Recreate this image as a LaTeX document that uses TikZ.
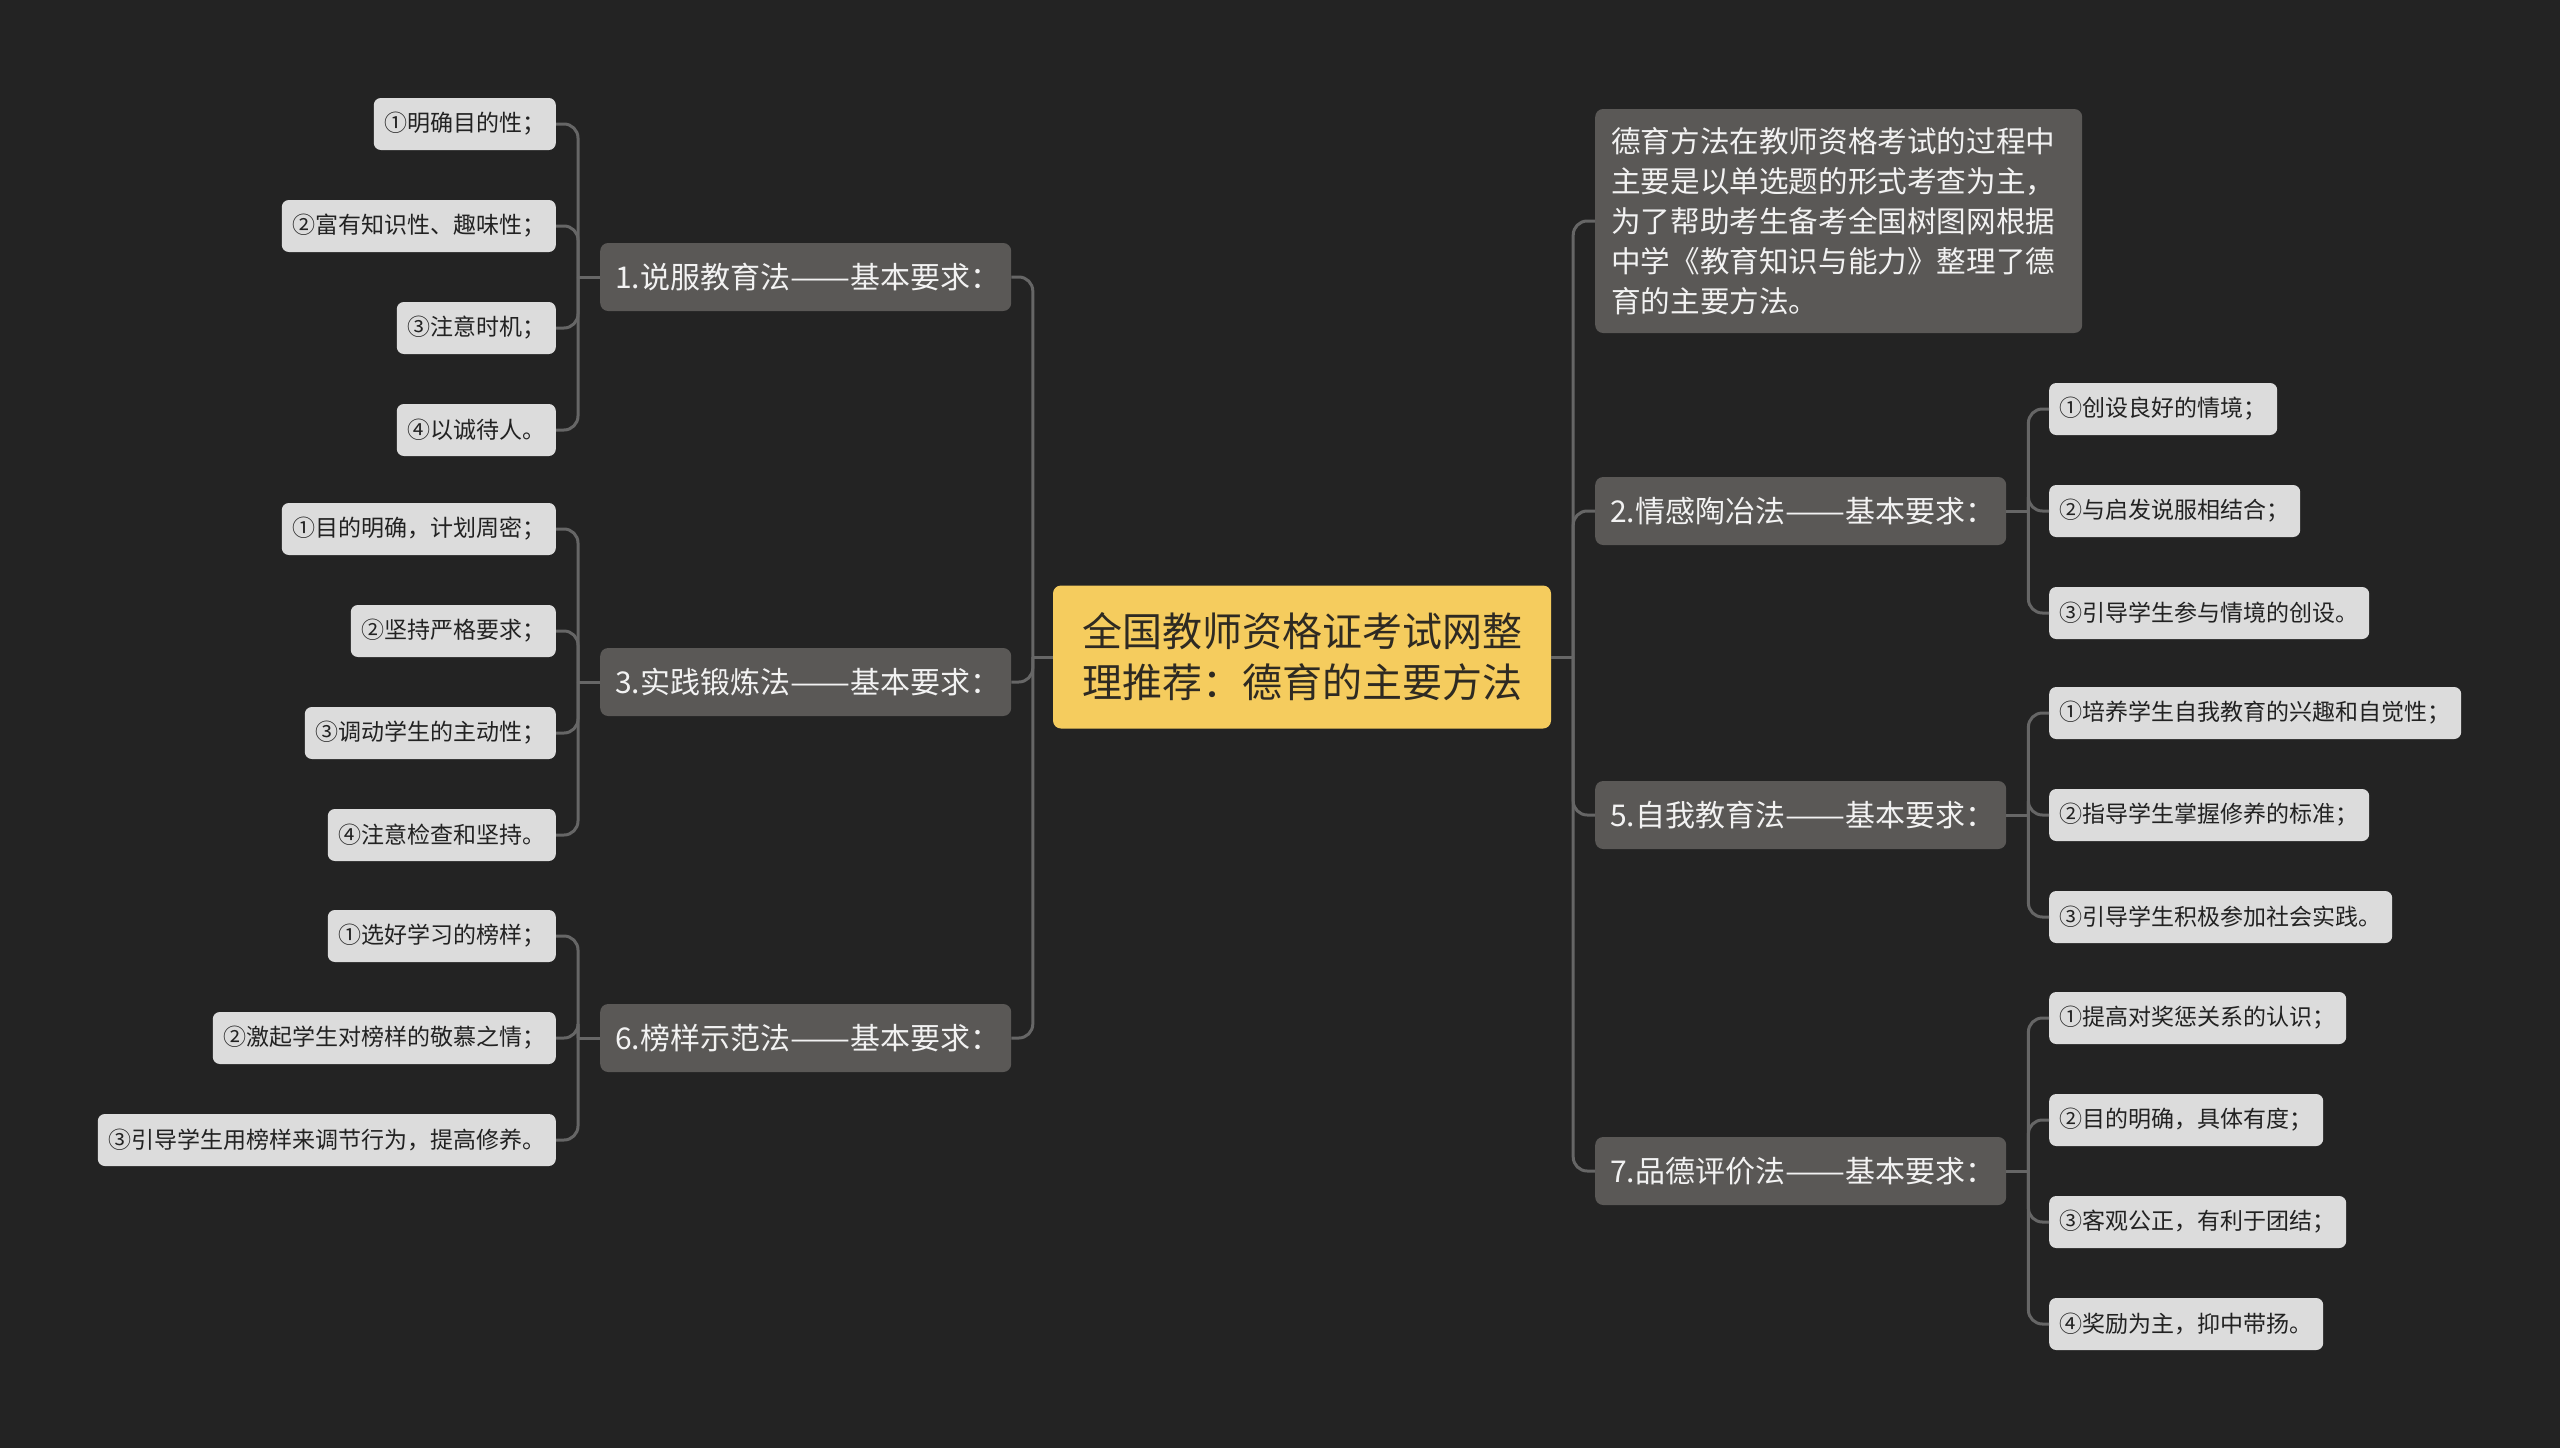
\documentclass[tikz,border=0pt]{standalone}
\usepackage{fontspec}
\setmainfont{Noto Sans CJK SC}
\definecolor{bgc}{HTML}{232323}
\definecolor{rootc}{HTML}{F5CC5E}
\definecolor{roottext}{HTML}{2E2A22}
\definecolor{branchc}{HTML}{5A5856}
\definecolor{branchtext}{HTML}{F2F2F2}
\definecolor{leafc}{HTML}{DCDCDC}
\definecolor{leaftext}{HTML}{222222}
\definecolor{linec}{HTML}{666666}
\newcommand\cjkdash{\resizebox{2em}{\height}{——}}
\tikzset{
  rootbox/.style={fill=rootc, rounded corners=8pt, text=roottext, font=\fontsize{40}{51}\selectfont, align=center, minimum width=498pt, minimum height=143pt, inner sep=0pt},
  branchbox/.style={fill=branchc, rounded corners=8pt, text=branchtext, font=\fontsize{30}{40}\selectfont, minimum height=68pt, text width=381pt, align=left, inner xsep=15pt, inner ysep=0pt},
  introbox/.style={fill=branchc, rounded corners=8pt, text=branchtext, font=\fontsize{29.6}{40}\selectfont, minimum height=224pt, text width=455pt, align=left, inner xsep=16pt, inner ysep=0pt},
  leafbox/.style={fill=leafc, rounded corners=7pt, text=leaftext, font=\fontsize{23}{28}\selectfont, minimum height=52pt, inner xsep=10.5pt, inner ysep=0pt},
  conn/.style={draw=linec, line width=3pt, rounded corners=14pt}
}
\begin{document}
\begin{tikzpicture}[x=1pt,y=-1pt]
\fill[bgc] (0,0) rectangle (2560,1448);
\useasboundingbox (0,0) rectangle (2560,1448);

% root
\node[rootbox] (root) at (1302,657) {全国教师资格证考试网整\\理推荐：德育的主要方法};

% left branches
\node[branchbox, anchor=west] (b1) at (600,277) {1.说服教育法\cjkdash 基本要求：};
\node[branchbox, anchor=west] (b3) at (600,682) {3.实践锻炼法\cjkdash 基本要求：};
\node[branchbox, anchor=west] (b6) at (600,1038) {6.榜样示范法\cjkdash 基本要求：};

% right branches
\node[introbox, anchor=west] (intro) at (1595,221) {德育方法在教师资格考试的过程中\\主要是以单选题的形式考查为主，\\为了帮助考生备考全国树图网根据\\中学《教育知识与能力》整理了德\\育的主要方法。};
\node[branchbox, anchor=west] (b2) at (1595,511) {2.情感陶冶法\cjkdash 基本要求：};
\node[branchbox, anchor=west] (b5) at (1595,815) {5.自我教育法\cjkdash 基本要求：};
\node[branchbox, anchor=west] (b7) at (1595,1171) {7.品德评价法\cjkdash 基本要求：};

% left leaves
\node[leafbox, anchor=east] (l11) at (556,124) {①明确目的性；};
\node[leafbox, anchor=east] (l12) at (556,226) {②富有知识性、趣味性；};
\node[leafbox, anchor=east] (l13) at (556,328) {③注意时机；};
\node[leafbox, anchor=east] (l14) at (556,430) {④以诚待人。};
\node[leafbox, anchor=east] (l31) at (556,529) {①目的明确，计划周密；};
\node[leafbox, anchor=east] (l32) at (556,631) {②坚持严格要求；};
\node[leafbox, anchor=east] (l33) at (556,733) {③调动学生的主动性；};
\node[leafbox, anchor=east] (l34) at (556,835) {④注意检查和坚持。};
\node[leafbox, anchor=east] (l61) at (556,936) {①选好学习的榜样；};
\node[leafbox, anchor=east] (l62) at (556,1038) {②激起学生对榜样的敬慕之情；};
\node[leafbox, anchor=east] (l63) at (556,1140) {③引导学生用榜样来调节行为，提高修养。};

% right leaves
\node[leafbox, anchor=west] (r21) at (2049,409) {①创设良好的情境；};
\node[leafbox, anchor=west] (r22) at (2049,511) {②与启发说服相结合；};
\node[leafbox, anchor=west] (r23) at (2049,613) {③引导学生参与情境的创设。};
\node[leafbox, anchor=west] (r51) at (2049,713) {①培养学生自我教育的兴趣和自觉性；};
\node[leafbox, anchor=west] (r52) at (2049,815) {②指导学生掌握修养的标准；};
\node[leafbox, anchor=west] (r53) at (2049,917) {③引导学生积极参加社会实践。};
\node[leafbox, anchor=west] (r71) at (2049,1018) {①提高对奖惩关系的认识；};
\node[leafbox, anchor=west] (r72) at (2049,1120) {②目的明确，具体有度；};
\node[leafbox, anchor=west] (r73) at (2049,1222) {③客观公正，有利于团结；};
\node[leafbox, anchor=west] (r74) at (2049,1324) {④奖励为主，抑中带扬。};

% junction coordinates
\coordinate (lj) at ([xshift=-20pt]root.west);
\coordinate (rj) at ([xshift=22pt]root.east);
\coordinate (j1) at ([xshift=-22pt]b1.west);
\coordinate (j3) at ([xshift=-22pt]b3.west);
\coordinate (j6) at ([xshift=-22pt]b6.west);
\coordinate (j2) at ([xshift=22pt]b2.east);
\coordinate (j5) at ([xshift=22pt]b5.east);
\coordinate (j7) at ([xshift=22pt]b7.east);

% root connectors
\draw[conn] (root.west) -- (lj);
\draw[conn] (root.east) -- (rj);
\foreach \b in {b1,b3,b6} \draw[conn] (lj) |- (\b.east);
\foreach \b in {intro,b2,b5,b7} \draw[conn] (rj) |- (\b.west);

% branch to leaves
\draw[conn] (b1.west) -- (j1);
\draw[conn] (b3.west) -- (j3);
\draw[conn] (b6.west) -- (j6);
\draw[conn] (b2.east) -- (j2);
\draw[conn] (b5.east) -- (j5);
\draw[conn] (b7.east) -- (j7);
\foreach \l in {l11,l12,l13,l14} \draw[conn] (j1) |- (\l.east);
\foreach \l in {l31,l32,l33,l34} \draw[conn] (j3) |- (\l.east);
\foreach \l in {l61,l62,l63} \draw[conn] (j6) |- (\l.east);
\foreach \l in {r21,r22,r23} \draw[conn] (j2) |- (\l.west);
\foreach \l in {r51,r52,r53} \draw[conn] (j5) |- (\l.west);
\foreach \l in {r71,r72,r73,r74} \draw[conn] (j7) |- (\l.west);
\end{tikzpicture}
\end{document}
